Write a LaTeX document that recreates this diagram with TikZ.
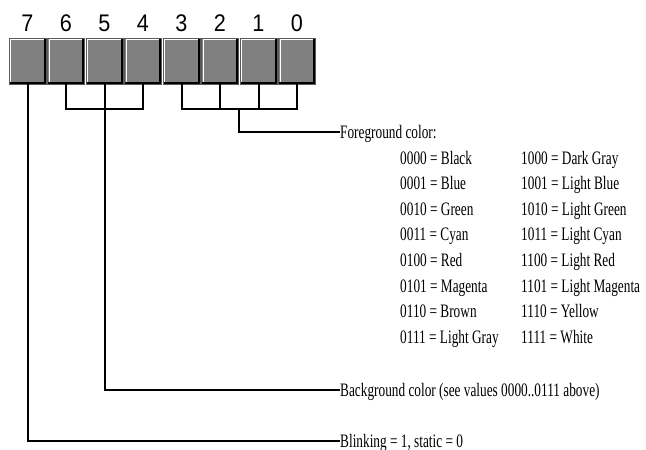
\documentclass[tikz,border=0pt]{standalone}
\usepackage{fontspec}
\usepackage{xcolor}
\definecolor{boxgray}{RGB}{128,128,128}
\definecolor{rimgray}{RGB}{90,90,90}
\newfontfamily\labelfont{Liberation Serif}[FakeStretch=0.7]
\newfontfamily\numfont{Liberation Sans}[FakeStretch=0.9]
\usetikzlibrary{positioning,calc}

\begin{document}
\begin{tikzpicture}[x=1pt,y=-1pt,
  bitbox/.style={draw=rimgray,fill=boxgray,line width=0.6pt,minimum width=37pt,minimum height=46pt,inner sep=0pt,
    path picture={
      \draw[white,line width=1.2pt] ([xshift=1.8pt,yshift=2.5pt]path picture bounding box.south west) |- ([xshift=-2.5pt,yshift=-1.8pt]path picture bounding box.north east);
      \draw[black,line width=5pt] (path picture bounding box.south west) -| (path picture bounding box.north east);
    }},
  bitnum/.style={font=\numfont\fontsize{24}{26}\selectfont,inner sep=0pt},
  lbl/.style={font=\labelfont\fontsize{19}{21}\selectfont,inner sep=0pt,text height=12.5pt,text depth=0pt},
  wire/.style={line width=2pt,black}]
  \useasboundingbox (0,0) rectangle (646,450);

  % bit cells 7..0, left to right
  \foreach \bit [count=\k from 0] in {7,6,5,4,3,2,1,0} {
    \node[bitbox] (b\bit) at (27.5+38.5*\k,61) {};
    \node[bitnum] (n\bit) at (27.5+38.5*\k,23) {\bit};
  }

  % labels
  \node[lbl,anchor=west] (fg) at (340,132) {Foreground color:};
  \node[lbl,anchor=west] (bg) at (340,390) {Background color (see values 0000..0111 above)};
  \node[lbl,anchor=west] (blink) at (340,441) {Blinking = 1, static = 0};

  % colour table
  \foreach \lo/\hi [count=\i from 0] in {0000 = Black/1000 = Dark Gray,0001 = Blue/1001 = Light Blue,
      0010 = Green/1010 = Light Green,0011 = Cyan/1011 = Light Cyan,0100 = Red/1100 = Light Red,
      0101 = Magenta/1101 = Light Magenta,0110 = Brown/1110 = Yellow,0111 = Light Gray/1111 = White} {
    \node[lbl,anchor=base west] (lo\i) at (400,164+25.6*\i) {\lo};
    \node[lbl,anchor=base west] (hi\i) at (521,164+25.6*\i) {\hi};
  }

  % brackets
  \coordinate (join) at (0,109);
  \draw[wire] (b6.south) |- (b4.south |- join) -- (b4.south);
  \draw[wire] (b3.south) |- (b0.south |- join) -- (b0.south);
  \draw[wire] (b2.south) -- (b2.south |- join);
  \draw[wire] (b1.south) -- (b1.south |- join);
  \coordinate (fgtap) at ($(b2.south |- join)!0.5!(b1.south |- join)$);
  \draw[wire] (fgtap) |- (fg.west);
  \draw[wire] (b5.south) |- (bg.west);
  \draw[wire] (b7.south) |- (blink.west);
\end{tikzpicture}
\end{document}
